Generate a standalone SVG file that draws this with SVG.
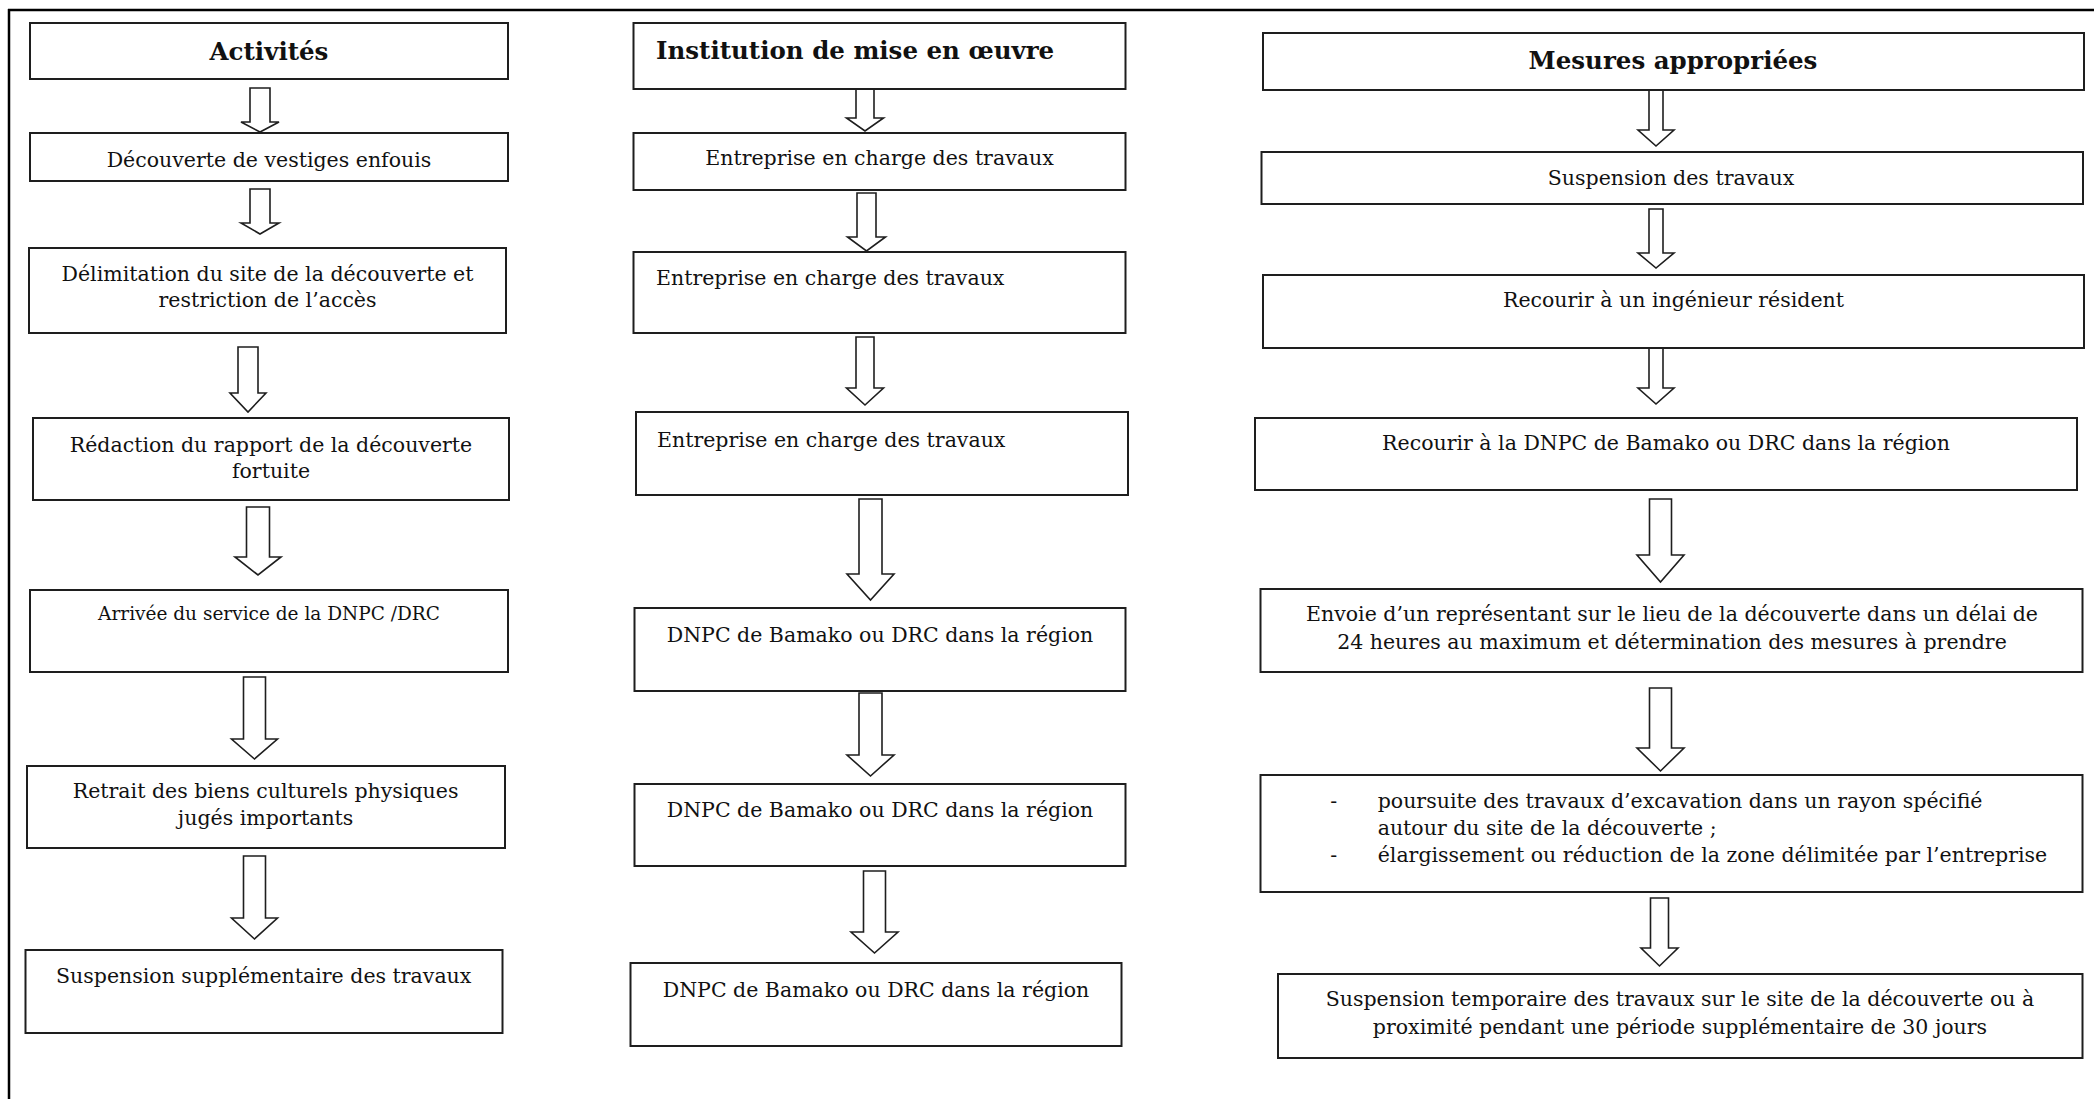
<svg xmlns="http://www.w3.org/2000/svg" width="2094" height="1099" viewBox="0 0 2094 1099">
<style>
.box{fill:#fff;stroke:#1e1e1e;stroke-width:2}
.t{font-family:"DejaVu Serif","Liberation Serif",serif;font-size:20.5px;fill:#111;text-anchor:middle}
.l{text-anchor:start}
.h{font-weight:bold;font-size:24.5px}
.s{font-size:18.5px}
.arr{fill:#fff;stroke:#1e1e1e;stroke-width:1.6;stroke-linejoin:miter}
.frame{stroke:#000;stroke-width:2.5;fill:none}
</style>
<rect width="2094" height="1099" fill="#fff"/>
<g id="frame">
<path class="frame" d="M8,10H2094M9,9V1099"/>
</g>
<g id="connectors">
<path class="arr" d="M250,88H270V122H279L260,132L241,122H250Z"/>
<path class="arr" d="M250,189H270V223H279L260,234L241,223H250Z"/>
<path class="arr" d="M238,347H258V393H266L248,412L230,393H238Z"/>
<path class="arr" d="M246.5,507H269.5V557H281L258,575L235,557H246.5Z"/>
<path class="arr" d="M243.5,677H265.5V739H277.5L254.5,759L231.5,739H243.5Z"/>
<path class="arr" d="M243.5,856H265.5V918H277.5L254.5,939L231.5,918H243.5Z"/>
<path class="arr" d="M856,87H874V118H883.5L865,131L846.5,118H856Z"/>
<path class="arr" d="M857,193H876V237H885.5L866.5,251L847.5,237H857Z"/>
<path class="arr" d="M856,337H874V388H883.5L865,405L846.5,388H856Z"/>
<path class="arr" d="M859,499H882V574H894L870.5,600L847,574H859Z"/>
<path class="arr" d="M859,693H882V755H894L870.5,776L847,755H859Z"/>
<path class="arr" d="M863.5,871H885.5V932H898L874.5,953L851,932H863.5Z"/>
<path class="arr" d="M1649,88H1663V130H1674L1656,146L1638,130H1649Z"/>
<path class="arr" d="M1649,209H1663V253H1674L1656,268L1638,253H1649Z"/>
<path class="arr" d="M1649,347H1663V388H1674L1656,404L1638,388H1649Z"/>
<path class="arr" d="M1649.5,499H1671.5V555H1684L1660.5,582L1637,555H1649.5Z"/>
<path class="arr" d="M1649.5,688H1671.5V748H1684L1660.5,771L1637,748H1649.5Z"/>
<path class="arr" d="M1650.5,898H1668.5V948H1678L1659.5,966L1641,948H1650.5Z"/>
</g>
<g id="act-head"><rect class="box" x="30" y="23" width="478" height="56"/><text class="t h" x="269" y="60">Activités</text></g>
<g id="act-1"><rect class="box" x="30" y="133" width="478" height="48"/><text class="t" x="269" y="166.7">Découverte de vestiges enfouis</text></g>
<g id="act-2"><rect class="box" x="29" y="248" width="477" height="85"/><text class="t" x="267.5" y="281">Délimitation du site de la découverte et</text><text class="t" x="267.5" y="306.5">restriction de l’accès</text></g>
<g id="act-3"><rect class="box" x="33" y="418" width="476" height="82"/><text class="t" x="271" y="451.5">Rédaction du rapport de la découverte</text><text class="t" x="271" y="477.5">fortuite</text></g>
<g id="act-4"><rect class="box" x="30" y="590" width="478" height="82"/><text class="t s" x="269" y="620">Arrivée du service de la DNPC /DRC</text></g>
<g id="act-5"><rect class="box" x="27" y="766" width="478" height="82"/><text class="t" x="265.6" y="798">Retrait des biens culturels physiques</text><text class="t" x="265.6" y="825">jugés importants</text></g>
<g id="act-6"><rect class="box" x="25.5" y="950" width="477" height="83"/><text class="t" x="263.7" y="983.3">Suspension supplémentaire des travaux</text></g>

<g id="inst-head"><rect class="box" x="633.5" y="23" width="492" height="66"/><text class="t h l" x="656" y="58.5">Institution de mise en œuvre</text></g>
<g id="inst-1"><rect class="box" x="633.5" y="133" width="492" height="57"/><text class="t" x="879.5" y="165">Entreprise en charge des travaux</text></g>
<g id="inst-2"><rect class="box" x="633.5" y="252" width="492" height="81"/><text class="t l" x="656" y="285">Entreprise en charge des travaux</text></g>
<g id="inst-3"><rect class="box" x="636" y="412" width="492" height="83"/><text class="t l" x="657" y="446.7">Entreprise en charge des travaux</text></g>
<g id="inst-4"><rect class="box" x="634.5" y="608" width="491" height="83"/><text class="t" x="880" y="641.7">DNPC de Bamako ou DRC dans la région</text></g>
<g id="inst-5"><rect class="box" x="634.5" y="784" width="491" height="82"/><text class="t" x="880" y="816.7">DNPC de Bamako ou DRC dans la région</text></g>
<g id="inst-6"><rect class="box" x="630.5" y="963" width="491" height="83"/><text class="t" x="876" y="996.7">DNPC de Bamako ou DRC dans la région</text></g>

<g id="mes-head"><rect class="box" x="1263" y="33" width="821" height="57"/><text class="t h" x="1673" y="69">Mesures appropriées</text></g>
<g id="mes-1"><rect class="box" x="1261.5" y="152" width="821.5" height="52"/><text class="t" x="1671" y="185">Suspension des travaux</text></g>
<g id="mes-2"><rect class="box" x="1263" y="275" width="821" height="73"/><text class="t" x="1673.5" y="306.7">Recourir à un ingénieur résident</text></g>
<g id="mes-3"><rect class="box" x="1255" y="418" width="822" height="72"/><text class="t" x="1666" y="450">Recourir à la DNPC de Bamako ou DRC dans la région</text></g>
<g id="mes-4"><rect class="box" x="1260.5" y="589" width="822" height="83"/><text class="t" x="1672" y="621">Envoie d’un représentant sur le lieu de la découverte dans un délai de</text><text class="t" x="1672" y="648.5">24 heures au maximum et détermination des mesures à prendre</text></g>
<g id="mes-5"><rect class="box" x="1260.5" y="775" width="822" height="117"/><text class="t" x="1333.6" y="808.3">-</text><text class="t l" x="1377.7" y="808.3">poursuite des travaux d’excavation dans un rayon spécifié</text><text class="t l" x="1377.7" y="835">autour du site de la découverte ;</text><text class="t" x="1333.6" y="861.7">-</text><text class="t l" x="1377.7" y="861.7">élargissement ou réduction de la zone délimitée par l’entreprise</text></g>
<g id="mes-6"><rect class="box" x="1278" y="974" width="804.5" height="84"/><text class="t" x="1680" y="1006">Suspension temporaire des travaux sur le site de la découverte ou à</text><text class="t" x="1680" y="1033.5">proximité pendant une période supplémentaire de 30 jours</text></g>
</svg>
